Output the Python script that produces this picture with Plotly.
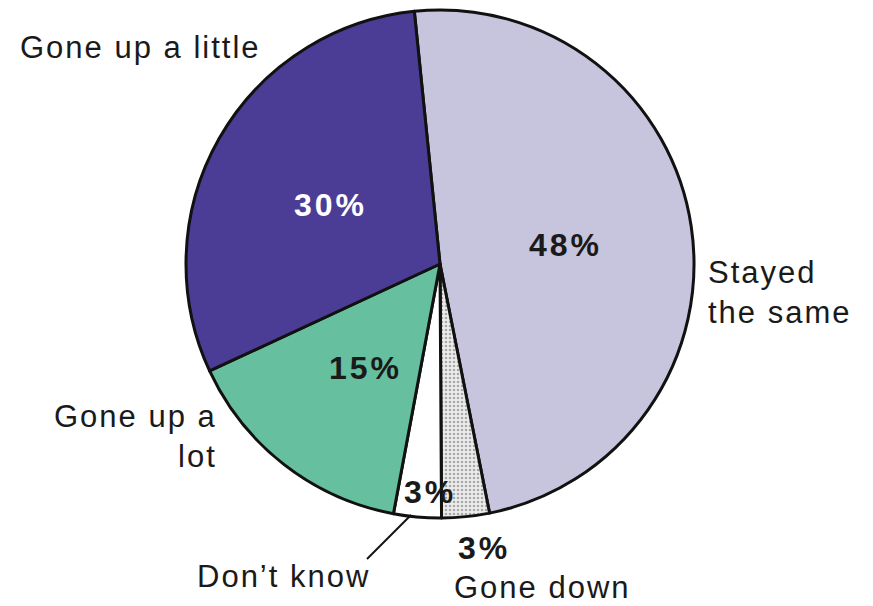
import plotly.graph_objects as go

# Survey answers, clockwise from the top of the pie
categories = ["Stayed the same", "Gone down", "Don't know", "Gone up a lot", "Gone up a little"]
values = [48, 3, 3, 15, 30]
colors = ["#c7c4dd", "#e6e6e6", "#ffffff", "#66bf9f", "#4b3d96"]

W, H = 873, 606
FONT = "Liberation Sans, Arial, Helvetica, sans-serif"


def px(x, y):
    """Pixel position -> paper coordinates."""
    return x / W, 1 - y / H


def spaced(text, ls):
    return f'<span style="letter-spacing:{ls}px">{text}</span>'


def pct(v):
    return "<b>" + spaced(f"{v}%", 3) + "</b>"


fig = go.Figure(
    go.Pie(
        labels=categories,
        values=values,
        sort=False,
        direction="clockwise",
        rotation=-5.8,
        textinfo="none",
        hoverinfo="label+value",
        marker=dict(
            colors=colors,
            line=dict(color="#111111", width=3),
            pattern=dict(
                shape=["", ".", "", "", ""],
                fgcolor="#a8a8a8",
                bgcolor="#ededed",
                size=4,
                solidity=0.35,
            ),
        ),
        domain=dict(x=[(440 - 254) / W, (440 + 254) / W], y=[88 / H, 596 / H]),
        showlegend=False,
    )
)

annotations = []

# percentage labels inside / beside the slices
pct_pos = {
    "Stayed the same": (565, 245, "#1a1a1a"),
    "Gone up a little": (330, 205, "#ffffff"),
    "Gone up a lot": (365, 368, "#1a1a1a"),
    "Don't know": (430, 492, "#1a1a1a"),
    "Gone down": (484, 548, "#1a1a1a"),
}
for cat, v in zip(categories, values):
    x, y, c = pct_pos[cat]
    ax, ay = px(x, y)
    annotations.append(dict(
        x=ax, y=ay, xref="paper", yref="paper", text=pct(v), showarrow=False,
        font=dict(family=FONT, size=32, color=c), xanchor="center", yanchor="middle",
    ))

# category names
name_spec = [
    ("Gone up a little", 18, 48, "left", "left"),
    ("Stayed<br>the same", 706, 292, "left", "left"),
    ("Gone up a<br>lot", 219, 436, "right", "right"),
    ("Don\u2019t know", 195, 576, "left", "left"),
    ("Gone down", 452, 587, "left", "left"),
]
for text, x, y, xa, al in name_spec:
    ax, ay = px(x, y)
    lines = "<br>".join(spaced(t, 2) for t in text.split("<br>"))
    annotations.append(dict(
        x=ax, y=ay, xref="paper", yref="paper", text=lines, showarrow=False,
        font=dict(family=FONT, size=31, color="#1a1a1a"), xanchor=xa, yanchor="middle",
        align=al,
    ))

# leader line from "Don't know" to its slice
x0, y0 = px(367, 559)
x1, y1 = px(411, 515)
shapes = [dict(type="line", xref="paper", yref="paper", x0=x0, y0=y0, x1=x1, y1=y1,
               line=dict(color="#111111", width=2))]

fig.update_layout(
    width=W, height=H,
    margin=dict(l=0, r=0, t=0, b=0),
    paper_bgcolor="white",
    plot_bgcolor="white",
    annotations=annotations,
    shapes=shapes,
)

fig.write_html("out.html")
